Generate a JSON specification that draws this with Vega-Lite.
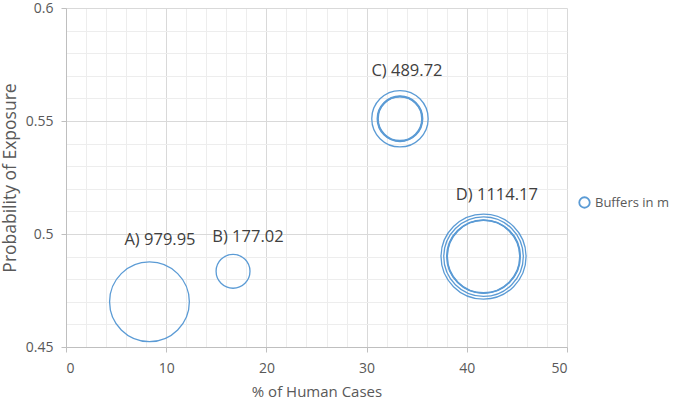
{
  "$schema": "https://vega.github.io/schema/vega-lite/v6.json",
  "width": 501,
  "height": 339,
  "autosize": {"type": "none"},
  "padding": {"left": 66, "top": 8, "right": 118, "bottom": 54},
  "background": "white",
  "config": {
    "font": "Open Sans",
    "view": {"stroke": null}
  },
  "datasets": {
    "bubbles": [
      {"site": "A", "cases": 8.33, "prob": 0.47, "buffer": 979.95, "series": "Buffers in m"},
      {"site": "B", "cases": 16.67, "prob": 0.4835, "buffer": 177.02, "series": "Buffers in m"},
      {"site": "C", "cases": 33.33, "prob": 0.551, "buffer": 489.72, "series": "Buffers in m"},
      {"site": "C", "cases": 33.33, "prob": 0.551, "buffer": 320, "series": "Buffers in m"},
      {"site": "C", "cases": 33.33, "prob": 0.551, "buffer": 305, "series": "Buffers in m"},
      {"site": "C", "cases": 33.33, "prob": 0.551, "buffer": 292, "series": "Buffers in m"},
      {"site": "D", "cases": 41.67, "prob": 0.49, "buffer": 1114.17, "series": "Buffers in m"},
      {"site": "D", "cases": 41.67, "prob": 0.49, "buffer": 975, "series": "Buffers in m"},
      {"site": "D", "cases": 41.67, "prob": 0.49, "buffer": 835, "series": "Buffers in m"},
      {"site": "D", "cases": 41.67, "prob": 0.49, "buffer": 820, "series": "Buffers in m"},
      {"site": "D", "cases": 41.67, "prob": 0.49, "buffer": 805, "series": "Buffers in m"}
    ],
    "labels": [
      {"label": "A) 979.95", "lx": 9.38, "ly": 0.4973},
      {"label": "B) 177.02", "lx": 18.16, "ly": 0.4987},
      {"label": "C) 489.72", "lx": 34.03, "ly": 0.5723},
      {"label": "D) 1114.17", "lx": 43.0, "ly": 0.5173}
    ]
  },
  "layer": [
    {
      "data": {"name": "bubbles"},
      "mark": {"type": "point", "shape": "circle", "filled": false, "strokeWidth": 1.3, "opacity": 1},
      "encoding": {
        "x": {
          "field": "cases", "type": "quantitative",
          "scale": {"domain": [0, 50], "nice": false, "zero": false},
          "axis": {
            "title": "% of Human Cases",
            "titleFont": "Open Sans", "titleFontSize": 15, "titleFontWeight": "normal", "titleColor": "#595959", "titlePadding": 9,
            "values": [0,2,4,6,8,10,12,14,16,18,20,22,24,26,28,30,32,34,36,38,40,42,44,46,48,50],
            "tickCount": 200,
            "format": "d",
            "labelExpr": "datum.value % 10 === 0 ? datum.label : ''",
            "labelOverlap": false,
            "labelFontSize": 14, "labelColor": "#595959", "labelPadding": 9,
            "grid": true,
            "gridColor": {"condition": {"test": "datum.value % 10 === 0", "value": "#D9D9D9"}, "value": "#EDEDED"},
            "gridWidth": 1,
            "tickColor": {"condition": {"test": "datum.value % 10 === 0", "value": "#BFBFBF"}, "value": "transparent"},
            "tickSize": 5,
            "domainColor": "#BFBFBF"
          }
        },
        "y": {
          "field": "prob", "type": "quantitative",
          "scale": {"domain": [0.45, 0.6], "nice": false, "zero": false},
          "axis": {
            "title": "Probability of Exposure",
            "titleFont": "Open Sans", "titleFontSize": 17.5, "titleFontWeight": "normal", "titleColor": "#595959", "titlePadding": 6,
            "values": [0.45,0.46,0.47,0.48,0.49,0.5,0.51,0.52,0.53,0.54,0.55,0.56,0.57,0.58,0.59,0.6],
            "tickCount": 200,
            "format": ".2~f",
            "labelExpr": "round(datum.value * 100) % 5 === 0 ? datum.label : ''",
            "labelOverlap": false,
            "labelFontSize": 14, "labelColor": "#595959", "labelPadding": 8,
            "grid": true,
            "gridColor": {"condition": {"test": "round(datum.value * 100) % 5 === 0", "value": "#D9D9D9"}, "value": "#EDEDED"},
            "tickColor": {"condition": {"test": "round(datum.value * 100) % 5 === 0", "value": "#BFBFBF"}, "value": "transparent"},
            "tickSize": 5,
            "domainColor": "#BFBFBF"
          }
        },
        "size": {
          "field": "buffer", "type": "quantitative",
          "scale": {"type": "linear", "domain": [0, 1000], "range": [0, 6492]},
          "legend": null
        },
        "color": {
          "field": "series", "type": "nominal",
          "scale": {"range": ["#5B9BD5"]},
          "legend": {
            "title": null, "orient": "none", "legendX": 512, "legendY": 188,
            "symbolType": "circle", "symbolSize": 110, "symbolStrokeWidth": 1.8,
            "labelFontSize": 13, "labelColor": "#595959", "labelFont": "Open Sans", "labelOffset": 4
          }
        }
      }
    },
    {
      "data": {"name": "labels"},
      "mark": {"type": "text", "fontSize": 16.5, "color": "#404040", "font": "Open Sans", "baseline": "middle", "align": "center"},
      "encoding": {
        "x": {"field": "lx", "type": "quantitative"},
        "y": {"field": "ly", "type": "quantitative"},
        "text": {"field": "label", "type": "nominal"}
      }
    }
  ]
}
